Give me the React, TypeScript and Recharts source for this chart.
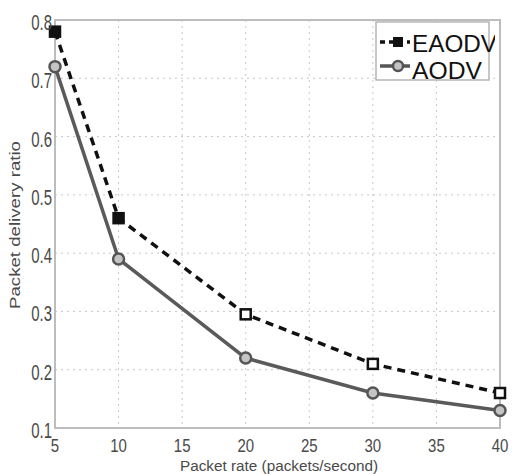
import { LineChart, Line, XAxis, YAxis, CartesianGrid, ReferenceArea } from 'recharts';

const packetRates = [5, 10, 20, 30, 40];
const eaodvRatio = [0.78, 0.46, 0.295, 0.21, 0.16];
const aodvRatio = [0.72, 0.39, 0.22, 0.16, 0.13];
const seriesNames = ['EAODV', 'AODV'];
const xTicks = [5, 10, 15, 20, 25, 30, 35, 40];
const yTicks = [0.1, 0.2, 0.3, 0.4, 0.5, 0.6, 0.7, 0.8];

const chartData = packetRates.map((rate, i) => ({
  rate,
  EAODV: eaodvRatio[i],
  AODV: aodvRatio[i],
}));

const font = '"Liberation Sans", Arial, sans-serif';
const labelColor = '#4a4a4a';

function XTick({ x, y, payload }: any) {
  return (
    <text
      transform={`translate(${x},${y + 24}) scale(1,1.25)`}
      textAnchor="middle"
      fontSize={15}
      fontFamily={font}
      fill={labelColor}
    >
      {payload.value}
    </text>
  );
}

function YTick({ x, y, payload }: any) {
  return (
    <text
      transform={`translate(${x},${y + 10}) scale(1,1.45)`}
      textAnchor="end"
      fontSize={15}
      fontFamily={font}
      fill={labelColor}
    >
      {payload.value}
    </text>
  );
}

function SquareDot({ cx, cy, index }: any) {
  return (
    <rect
      key={`sq-${index}`}
      x={cx - 5}
      y={cy - 5}
      width={10}
      height={10}
      fill={index < 2 ? '#111' : '#fff'}
      stroke="#111"
      strokeWidth={2.5}
    />
  );
}

function CircleDot({ cx, cy, index }: any) {
  return <circle key={`c-${index}`} cx={cx} cy={cy} r={5.5} fill="#c4c4c4" stroke="#555" strokeWidth={2.5} />;
}

// legend drawn as an overlay so it does not take space from the plot
function LegendBox() {
  return (
    <svg width={120} height={64} style={{ position: 'absolute', left: 375, top: 21, display: 'block' }}>
      <rect x={1} y={1} width={113} height={58} fill="#fff" stroke="#b5b5b5" strokeWidth={1.5} />
      {seriesNames.map((name, i) => {
        const cy = i === 0 ? 21 : 45;
        const isE = name === 'EAODV';
        return (
          <g key={name}>
            <line
              x1={5}
              x2={35}
              y1={cy}
              y2={cy}
              stroke={isE ? '#111' : '#555'}
              strokeWidth={3.5}
              strokeDasharray={isE ? '5 4' : undefined}
            />
            {isE ? (
              <rect x={18} y={cy - 5} width={10} height={10} fill="#111" />
            ) : (
              <circle cx={23} cy={cy} r={5} fill="#c4c4c4" stroke="#555" strokeWidth={2.5} />
            )}
            <text
              transform={`translate(37,${i === 0 ? 31 : 58}) scale(1,1.1)`}
              fontSize={21}
              fontFamily={font}
              fill="#111"
              textLength={isE ? 85 : 70}
              lengthAdjust="spacingAndGlyphs"
            >
              {name}
            </text>
          </g>
        );
      })}
    </svg>
  );
}

export default function App() {
  return (
    <div style={{ position: 'absolute', left: 0, top: 0, width: 512, height: 474, background: '#fff' }}>
      <LineChart width={512} height={474} data={chartData} margin={{ top: 20, right: 12, left: 0, bottom: 0 }}>
        <CartesianGrid stroke="#c8c8c8" strokeDasharray="2 4" />
        <ReferenceArea x1={5} x2={40} y1={0.1} y2={0.8} fill="none" stroke="#bdbdbd" strokeWidth={2} />
        <XAxis
          dataKey="rate"
          type="number"
          domain={[5, 40]}
          ticks={xTicks}
          height={46}
          axisLine={false}
          tickLine={false}
          tickSize={0}
          tickMargin={0}
          tick={<XTick />}
          label={{
            content: () => (
              <text
                transform="translate(279,471) scale(1,1.1)"
                textAnchor="middle"
                fontSize={14}
                fontFamily={font}
                fill={labelColor}
                textLength={198}
                lengthAdjust="spacingAndGlyphs"
              >
                Packet rate (packets/second)
              </text>
            ),
          }}
        />
        <YAxis
          type="number"
          domain={[0.1, 0.8]}
          ticks={yTicks}
          width={55}
          axisLine={false}
          tickLine={false}
          tickSize={0}
          tickMargin={3}
          tick={<YTick />}
          label={{
            content: () => (
              <text
                transform="translate(20,225) rotate(-90)"
                textAnchor="middle"
                fontSize={14}
                fontFamily={font}
                fill={labelColor}
                textLength={168}
                lengthAdjust="spacingAndGlyphs"
              >
                Packet delivery ratio
              </text>
            ),
          }}
        />
        <Line
          dataKey="AODV"
          stroke="#5a5a5a"
          strokeWidth={3.5}
          dot={<CircleDot />}
          isAnimationActive={false}
        />
        <Line
          dataKey="EAODV"
          stroke="#111"
          strokeWidth={3.5}
          strokeDasharray="8 6"
          dot={<SquareDot />}
          isAnimationActive={false}
        />
      </LineChart>
      <LegendBox />
    </div>
  );
}
